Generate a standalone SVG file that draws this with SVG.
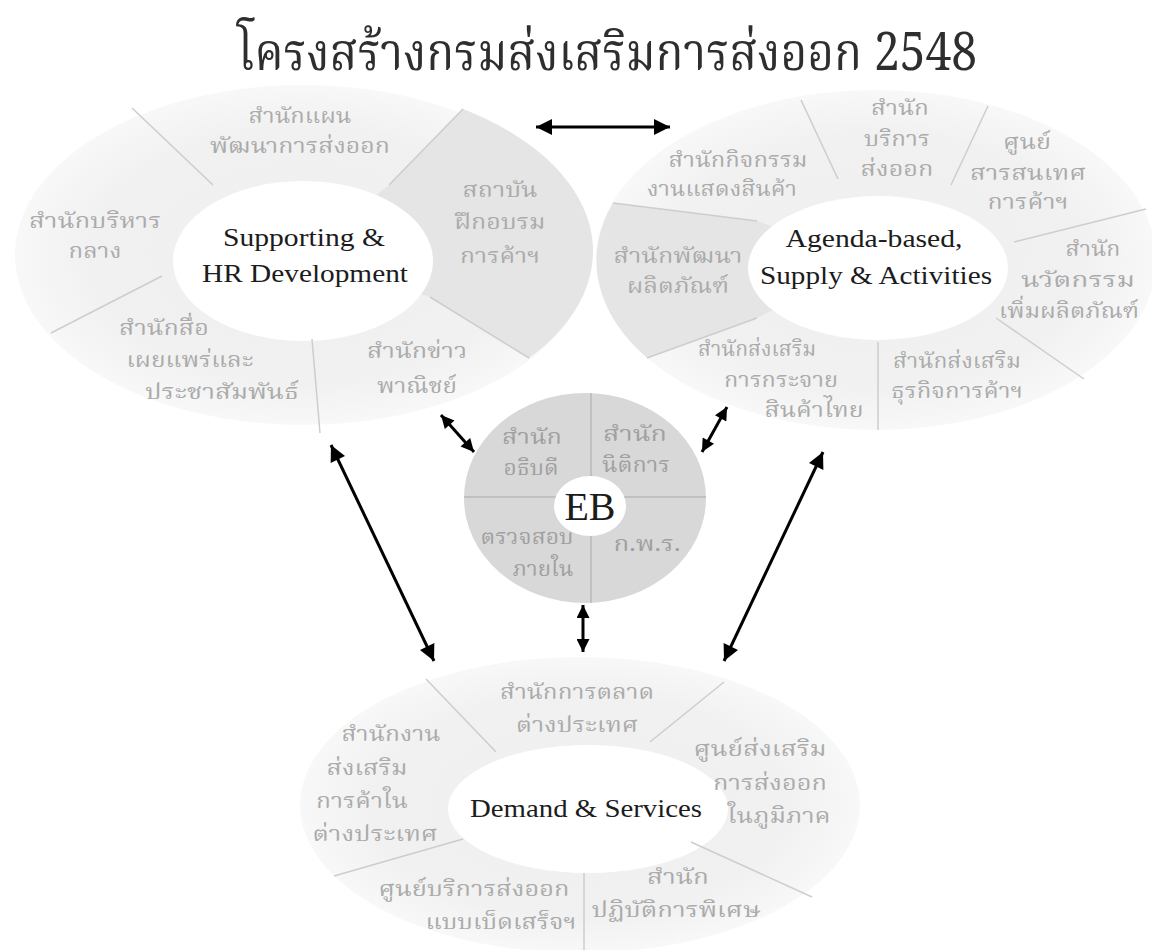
<svg xmlns="http://www.w3.org/2000/svg" width="1152" height="950" viewBox="0 0 1152 950">
<defs>
<style>
.th{font-family:"Noto Serif Thai","Noto Sans Thai","Loma","Garuda","Liberation Serif",serif;font-size:21px;fill:#ababab;text-anchor:middle}
.en{font-family:"Liberation Serif",serif;font-size:25px;fill:#1c1c1c;text-anchor:middle}
.sep{stroke:#cdcdcd;stroke-width:1.5;fill:none}
.disc{fill:url(#gdisc)}
.dark{fill:#e5e5e5}
.core{fill:#ffffff}
.eb{fill:#a0a0a0}
.arr{stroke:#000;stroke-width:3;fill:none;marker-start:url(#ah);marker-end:url(#ah)}
.arrs{stroke:#000;stroke-width:3;fill:none;marker-start:url(#ahs);marker-end:url(#ahs)}
</style>
<radialGradient id="gdisc" cx="0.5" cy="0.5" r="0.5">
<stop offset="0" stop-color="#efefef"/>
<stop offset="0.75" stop-color="#f1f1f1"/>
<stop offset="1" stop-color="#f8f8f8"/>
</radialGradient>
<marker id="ah" viewBox="0 0 10 10" refX="10" refY="5" markerUnits="userSpaceOnUse" markerWidth="18" markerHeight="16" orient="auto-start-reverse"><path d="M0,0 L10,5 L0,10 Z" fill="#000"/></marker>
<marker id="ahs" viewBox="0 0 10 10" refX="10" refY="5" markerUnits="userSpaceOnUse" markerWidth="14" markerHeight="13" orient="auto-start-reverse"><path d="M0,0 L10,5 L0,10 Z" fill="#000"/></marker>
</defs>
<rect width="1152" height="950" fill="#ffffff"/>

<g id="title">
<text x="607" y="70" font-family="Noto Serif Thai,Noto Sans Thai,Liberation Serif,serif" font-size="52" fill="#2e2e2e" text-anchor="middle" textLength="740" lengthAdjust="spacingAndGlyphs">โครงสร้างกรมส่งเสริมการส่งออก 2548</text>
</g>

<g id="supporting">
<ellipse class="disc" cx="303" cy="255" rx="288" ry="170"/>
<path class="dark" d="M303,255 L389,185 L463,109 A288,170 0 0 1 529,358 L430,297 Z"/>
<ellipse class="core" cx="303" cy="261" rx="130" ry="80"/>
<line class="sep" x1="132" y1="108" x2="213" y2="185"/>
<line class="sep" x1="463" y1="109" x2="389" y2="185"/>
<line class="sep" x1="51" y1="333" x2="162" y2="276"/>
<line class="sep" x1="312" y1="339" x2="320" y2="433"/>
<line class="sep" x1="430" y1="297" x2="529" y2="358"/>
<text class="th" x="300" y="123" textLength="103" lengthAdjust="spacingAndGlyphs">สำนักแผน</text>
<text class="th" x="300" y="153" textLength="180" lengthAdjust="spacingAndGlyphs">พัฒนาการส่งออก</text>
<text class="th" x="95" y="228" textLength="132" lengthAdjust="spacingAndGlyphs">สำนักบริหาร</text>
<text class="th" x="95" y="258" textLength="53" lengthAdjust="spacingAndGlyphs">กลาง</text>
<text class="th" x="500" y="197" textLength="75" lengthAdjust="spacingAndGlyphs">สถาบัน</text>
<text class="th" x="500" y="229" textLength="91" lengthAdjust="spacingAndGlyphs">ฝึกอบรม</text>
<text class="th" x="500" y="263" textLength="80" lengthAdjust="spacingAndGlyphs">การค้าฯ</text>
<text class="th" x="164" y="335" textLength="90" lengthAdjust="spacingAndGlyphs">สำนักสื่อ</text>
<text class="th" x="190" y="367" textLength="127" lengthAdjust="spacingAndGlyphs">เผยแพร่และ</text>
<text class="th" x="222" y="399" textLength="154" lengthAdjust="spacingAndGlyphs">ประชาสัมพันธ์</text>
<text class="th" x="417" y="358" textLength="100" lengthAdjust="spacingAndGlyphs">สำนักข่าว</text>
<text class="th" x="417" y="393" textLength="80" lengthAdjust="spacingAndGlyphs">พาณิชย์</text>
<text class="en" x="304" y="246" textLength="162" lengthAdjust="spacingAndGlyphs">Supporting &amp;</text>
<text class="en" x="305" y="282" textLength="206" lengthAdjust="spacingAndGlyphs">HR Development</text>
</g>

<g id="agenda">
<ellipse class="disc" cx="876" cy="260" rx="280" ry="170"/>
<path class="dark" d="M876,260 L757,221 L613,203 A280,170 0 0 0 647,358 L757,318 Z"/>
<ellipse class="core" cx="878" cy="268" rx="130" ry="72"/>
<line class="sep" x1="801" y1="100" x2="838" y2="179"/>
<line class="sep" x1="988" y1="106" x2="951" y2="185"/>
<line class="sep" x1="613" y1="203" x2="757" y2="221"/>
<line class="sep" x1="1014" y1="242" x2="1146" y2="209"/>
<line class="sep" x1="647" y1="358" x2="757" y2="318"/>
<line class="sep" x1="878" y1="342" x2="878" y2="430"/>
<line class="sep" x1="996" y1="318" x2="1084" y2="379"/>
<text class="th" x="738" y="167" textLength="139" lengthAdjust="spacingAndGlyphs">สำนักกิจกรรม</text>
<text class="th" x="722" y="196" textLength="150" lengthAdjust="spacingAndGlyphs">งานแสดงสินค้า</text>
<text class="th" x="900" y="115" textLength="58" lengthAdjust="spacingAndGlyphs">สำนัก</text>
<text class="th" x="897" y="146" textLength="66" lengthAdjust="spacingAndGlyphs">บริการ</text>
<text class="th" x="897" y="176" textLength="73" lengthAdjust="spacingAndGlyphs">ส่งออก</text>
<text class="th" x="1027" y="149" textLength="48" lengthAdjust="spacingAndGlyphs">ศูนย์</text>
<text class="th" x="1028" y="180" textLength="116" lengthAdjust="spacingAndGlyphs">สารสนเทศ</text>
<text class="th" x="1028" y="209" textLength="81" lengthAdjust="spacingAndGlyphs">การค้าฯ</text>
<text class="th" x="678" y="263" textLength="129" lengthAdjust="spacingAndGlyphs">สำนักพัฒนา</text>
<text class="th" x="678" y="293" textLength="102" lengthAdjust="spacingAndGlyphs">ผลิตภัณฑ์</text>
<text class="th" x="1093" y="256" textLength="55" lengthAdjust="spacingAndGlyphs">สำนัก</text>
<text class="th" x="1078" y="287" textLength="114" lengthAdjust="spacingAndGlyphs">นวัตกรรม</text>
<text class="th" x="1069" y="318" textLength="140" lengthAdjust="spacingAndGlyphs">เพิ่มผลิตภัณฑ์</text>
<text class="th" x="757" y="356" textLength="118" lengthAdjust="spacingAndGlyphs">สำนักส่งเสริม</text>
<text class="th" x="781" y="387" textLength="114" lengthAdjust="spacingAndGlyphs">การกระจาย</text>
<text class="th" x="814" y="417" textLength="99" lengthAdjust="spacingAndGlyphs">สินค้าไทย</text>
<text class="th" x="957" y="368" textLength="128" lengthAdjust="spacingAndGlyphs">สำนักส่งเสริม</text>
<text class="th" x="957" y="398" textLength="132" lengthAdjust="spacingAndGlyphs">ธุรกิจการค้าฯ</text>
<text class="en" x="874" y="247" textLength="177" lengthAdjust="spacingAndGlyphs">Agenda-based,</text>
<text class="en" x="876" y="284" textLength="232" lengthAdjust="spacingAndGlyphs">Supply &amp; Activities</text>
</g>

<g id="eb">
<ellipse cx="585" cy="498" rx="121" ry="105" fill="#d8d8d8"/>
<line x1="464" y1="497" x2="706" y2="497" stroke="#b8b8b8" stroke-width="1.5"/>
<line x1="591" y1="393" x2="591" y2="603" stroke="#b8b8b8" stroke-width="1.5"/>
<ellipse class="core" cx="590" cy="506" rx="36" ry="30"/>
<text class="th eb" x="532" y="444" textLength="60" lengthAdjust="spacingAndGlyphs">สำนัก</text>
<text class="th eb" x="531" y="475" textLength="55" lengthAdjust="spacingAndGlyphs">อธิบดี</text>
<text class="th eb" x="635" y="441" textLength="64" lengthAdjust="spacingAndGlyphs">สำนัก</text>
<text class="th eb" x="636" y="472" textLength="68" lengthAdjust="spacingAndGlyphs">นิติการ</text>
<text class="th eb" x="527" y="544" textLength="93" lengthAdjust="spacingAndGlyphs">ตรวจสอบ</text>
<text class="th eb" x="543" y="576" textLength="61" lengthAdjust="spacingAndGlyphs">ภายใน</text>
<text class="th eb" x="647" y="551" textLength="67" lengthAdjust="spacingAndGlyphs">ก.พ.ร.</text>
<text x="590" y="520" font-family="Liberation Serif,serif" font-size="40" fill="#1c1c1c" text-anchor="middle">EB</text>
</g>

<g id="demand">
<ellipse class="disc" cx="580" cy="805" rx="280" ry="148"/>
<ellipse class="core" cx="588" cy="809" rx="140" ry="64"/>
<line class="sep" x1="426" y1="679" x2="496" y2="752"/>
<line class="sep" x1="724" y1="682" x2="650" y2="742"/>
<line class="sep" x1="334" y1="876" x2="463" y2="839"/>
<line class="sep" x1="584" y1="873" x2="584" y2="950"/>
<line class="sep" x1="691" y1="842" x2="812" y2="897"/>
<text class="th" x="577" y="699" textLength="154" lengthAdjust="spacingAndGlyphs">สำนักการตลาด</text>
<text class="th" x="577" y="732" textLength="122" lengthAdjust="spacingAndGlyphs">ต่างประเทศ</text>
<text class="th" x="391" y="741" textLength="99" lengthAdjust="spacingAndGlyphs">สำนักงาน</text>
<text class="th" x="367" y="775" textLength="81" lengthAdjust="spacingAndGlyphs">ส่งเสริม</text>
<text class="th" x="362" y="808" textLength="92" lengthAdjust="spacingAndGlyphs">การค้าใน</text>
<text class="th" x="375" y="841" textLength="125" lengthAdjust="spacingAndGlyphs">ต่างประเทศ</text>
<text class="th" x="760" y="756" textLength="133" lengthAdjust="spacingAndGlyphs">ศูนย์ส่งเสริม</text>
<text class="th" x="770" y="790" textLength="114" lengthAdjust="spacingAndGlyphs">การส่งออก</text>
<text class="th" x="779" y="823" textLength="103" lengthAdjust="spacingAndGlyphs">ในภูมิภาค</text>
<text class="th" x="474" y="896" textLength="191" lengthAdjust="spacingAndGlyphs">ศูนย์บริการส่งออก</text>
<text class="th" x="501" y="929" textLength="151" lengthAdjust="spacingAndGlyphs">แบบเบ็ดเสร็จฯ</text>
<text class="th" x="678" y="884" textLength="62" lengthAdjust="spacingAndGlyphs">สำนัก</text>
<text class="th" x="676" y="917" textLength="169" lengthAdjust="spacingAndGlyphs">ปฏิบัติการพิเศษ</text>
<text class="en" x="586" y="817" textLength="232" lengthAdjust="spacingAndGlyphs">Demand &amp; Services</text>
</g>

<g id="connectors">
<line class="arr" x1="536" y1="127" x2="670" y2="127"/>
<line class="arrs" x1="441" y1="415" x2="474" y2="452"/>
<line class="arrs" x1="727" y1="407" x2="702" y2="452"/>
<line class="arrs" x1="583" y1="605" x2="583" y2="652"/>
<line class="arr" x1="331" y1="445" x2="434" y2="661"/>
<line class="arr" x1="823" y1="452" x2="724" y2="661"/>
</g>
</svg>
